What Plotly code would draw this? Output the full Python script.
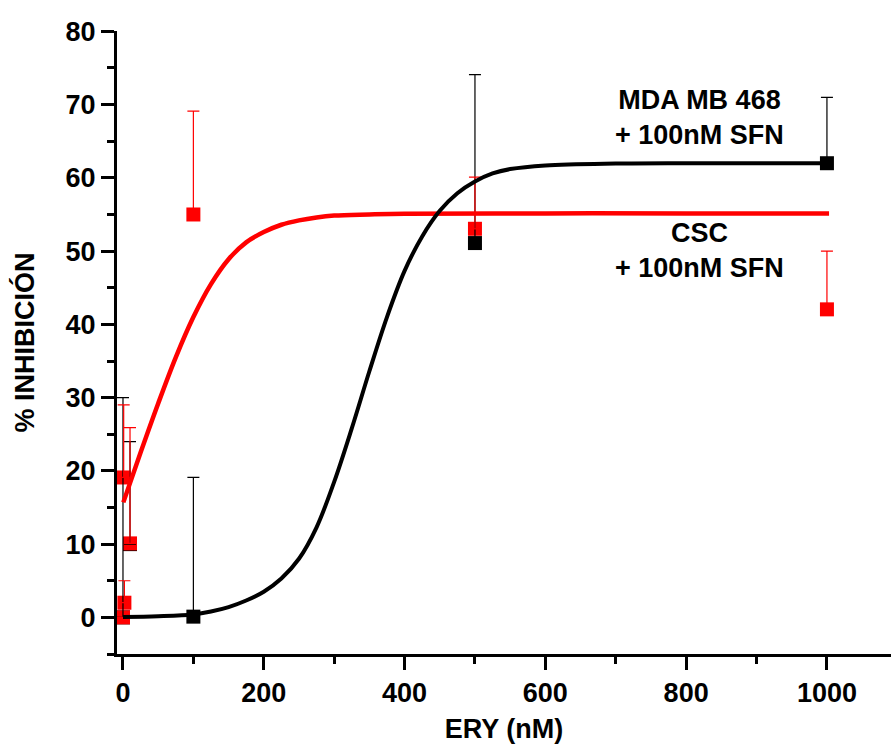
import plotly.graph_objects as go

# ---- data ----
# MDA MB 468 + 100nM SFN (black)
mda_x = [0, 10, 100, 500, 1000]
mda_y = [0.0, 10.0, 0.1, 51.1, 62.0]
mda_err = [30.0, 14.0, 19.0, 23.0, 9.0]

# CSC + 100nM SFN (red)
csc_x = [0, 1, 2, 10, 100, 500, 1000]
csc_y = [0.0, 19.1, 2.0, 10.1, 55.0, 53.05, 42.05]
csc_err = [0.0, 9.9, 3.0, 15.8, 14.1, 7.05, 7.95]

# fitted curves
mda_fit_x = [0, 50, 100, 125, 150, 175, 200, 225, 250, 275, 300, 325, 350, 375,
             400, 425, 450, 475, 500, 525, 550, 600, 700, 800, 1000]
mda_fit_y = [0.05, 0.15, 0.4, 0.8, 1.4, 2.3, 3.5, 5.3, 8.0, 12.3, 18.5, 25.8,
             33.6, 41.0, 47.3, 52.0, 55.5, 57.9, 59.5, 60.6, 61.2, 61.7, 61.95,
             62.0, 62.0]
csc_fit_x = [0.5, 25, 50, 75, 100, 125, 150, 175, 200, 225, 250, 275, 300, 350,
             400, 600, 800, 1003]
csc_fit_y = [15.7, 22.5, 29.2, 35.5, 41.0, 45.5, 48.9, 51.2, 52.6, 53.6, 54.2,
             54.6, 54.85, 55.0, 55.1, 55.15, 55.15, 55.15]

x_ticks = [0, 200, 400, 600, 800, 1000]
y_ticks = [0, 10, 20, 30, 40, 50, 60, 70, 80]

label_mda = "MDA MB 468<br>+ 100nM SFN"
label_csc = "CSC<br>+ 100nM SFN"

FONT = "Liberation Sans, Arial, sans-serif"
RED = "#ff0000"
BLACK = "#000000"

fig = go.Figure()

# black markers (bottom layer)
fig.add_trace(go.Scatter(x=mda_x, y=mda_y, mode="markers",
                         marker=dict(symbol="square", size=14, color=BLACK),
                         showlegend=False, hoverinfo="skip"))
# red markers
fig.add_trace(go.Scatter(x=csc_x, y=csc_y, mode="markers",
                         marker=dict(symbol="square", size=14, color=RED),
                         showlegend=False, hoverinfo="skip"))
# black error bars
fig.add_trace(go.Scatter(x=mda_x, y=mda_y, mode="markers",
                         marker=dict(size=1, color="rgba(0,0,0,0)"),
                         error_y=dict(type="data", symmetric=False, array=mda_err,
                                      arrayminus=[0] * len(mda_err), color=BLACK,
                                      thickness=1.2, width=6),
                         showlegend=False, hoverinfo="skip"))
# red error bars
fig.add_trace(go.Scatter(x=csc_x, y=csc_y, mode="markers",
                         marker=dict(size=1, color="rgba(0,0,0,0)"),
                         error_y=dict(type="data", symmetric=False, array=csc_err,
                                      arrayminus=[0] * len(csc_err), color=RED,
                                      thickness=1.2, width=6),
                         showlegend=False, hoverinfo="skip"))
# fitted curves
fig.add_trace(go.Scatter(x=csc_fit_x, y=csc_fit_y, mode="lines",
                         line=dict(color=RED, width=4.5, shape="spline", smoothing=1.0),
                         showlegend=False, hoverinfo="skip"))
fig.add_trace(go.Scatter(x=mda_fit_x, y=mda_fit_y, mode="lines",
                         line=dict(color=BLACK, width=4, shape="spline", smoothing=1.0),
                         showlegend=False, hoverinfo="skip"))

fig.add_annotation(x=819, y=68.2, xref="x", yref="y", text=label_mda, showarrow=False,
                   xanchor="center", yanchor="middle", align="center",
                   font=dict(family=FONT, size=27, color=BLACK, weight=700))
fig.add_annotation(x=819, y=50.1, xref="x", yref="y", text=label_csc, showarrow=False,
                   xanchor="center", yanchor="middle", align="center",
                   font=dict(family=FONT, size=27, color=BLACK, weight=700))

fig.update_layout(
    width=891, height=746,
    margin=dict(l=117, r=0, t=31, b=92),
    paper_bgcolor="white", plot_bgcolor="white",
    font=dict(family=FONT, size=27, color=BLACK, weight=700),
)
fig.update_xaxes(
    range=[-8.5, 1091], showgrid=False, zeroline=False,
    showline=True, linecolor=BLACK, linewidth=3,
    tickmode="array", tickvals=x_ticks, ticktext=[str(v) for v in x_ticks],
    ticks="outside", ticklen=13, tickwidth=3, tickcolor=BLACK,
    minor=dict(dtick=100, tick0=0, ticks="outside", ticklen=7, tickwidth=3, tickcolor=BLACK),
    tickfont=dict(family=FONT, size=27, color=BLACK, weight=700),
    title=dict(text="ERY (nM)", standoff=12,
               font=dict(family=FONT, size=27, color=BLACK, weight=700)),
)
fig.update_yaxes(
    range=[-5, 80.05], showgrid=False, zeroline=False,
    showline=True, linecolor=BLACK, linewidth=3,
    tickmode="array", tickvals=y_ticks, ticktext=[str(v) for v in y_ticks],
    ticks="outside", ticklen=13, tickwidth=3, tickcolor=BLACK,
    minor=dict(dtick=5, tick0=-5, ticks="outside", ticklen=7, tickwidth=3, tickcolor=BLACK),
    tickfont=dict(family=FONT, size=27, color=BLACK, weight=700),
    title=dict(text="% INHIBICIÓN", standoff=24,
               font=dict(family=FONT, size=27, color=BLACK, weight=700)),
)

fig.write_html("out.html")
